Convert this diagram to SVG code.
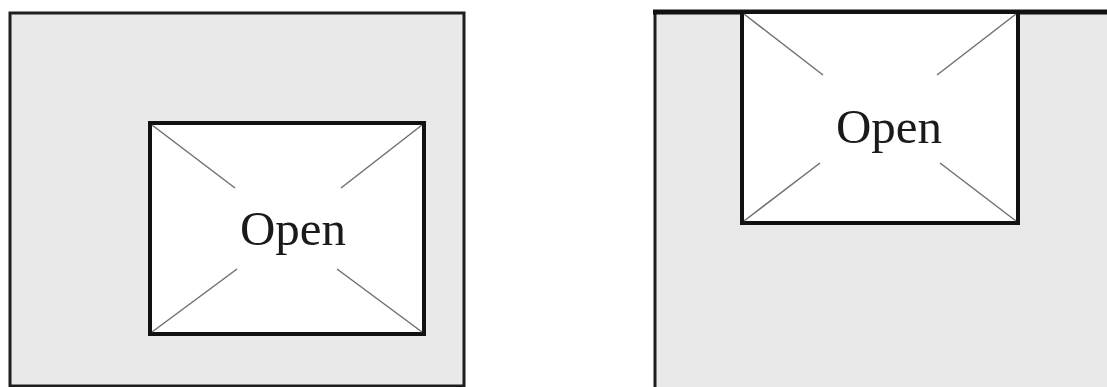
<svg xmlns="http://www.w3.org/2000/svg" width="1107" height="387" viewBox="0 0 1107 387">
<style>
.panel{fill:#e9e9e9;stroke:#1e1e1e;stroke-width:3}
.open{fill:#ffffff;stroke:#111111;stroke-width:4}
.diag{stroke:#707070;stroke-width:1.5;fill:none}
.lbl{font-family:"Liberation Serif","Times New Roman",serif;font-size:49px;fill:#1a1a1a;text-anchor:middle}
</style>
<rect width="1107" height="387" fill="#ffffff"/>
<g id="left-wall">
<rect class="panel" x="10" y="13" width="454" height="373"/>
</g>
<g id="left-opening">
<rect class="open" x="150" y="123" width="274" height="211"/>
<line class="diag" x1="152" y1="125" x2="235" y2="188"/>
<line class="diag" x1="422" y1="125" x2="341" y2="188"/>
<line class="diag" x1="152" y1="332" x2="237" y2="269"/>
<line class="diag" x1="422" y1="332" x2="337" y2="269"/>
<text class="lbl" x="293" y="245">Open</text>
</g>
<g id="right-wall">
<rect class="panel" x="655" y="12" width="480" height="400" style="stroke-width:3"/>
<line x1="653" y1="12" x2="1107" y2="12" stroke="#111" stroke-width="5"/>
</g>
<g id="right-opening">
<rect class="open" x="742" y="12" width="276" height="211"/>
<line class="diag" x1="744" y1="14" x2="823" y2="75"/>
<line class="diag" x1="1016" y1="14" x2="937" y2="75"/>
<line class="diag" x1="744" y1="221" x2="820" y2="163"/>
<line class="diag" x1="1016" y1="221" x2="940" y2="163"/>
<text class="lbl" x="889" y="143">Open</text>
</g>
</svg>
